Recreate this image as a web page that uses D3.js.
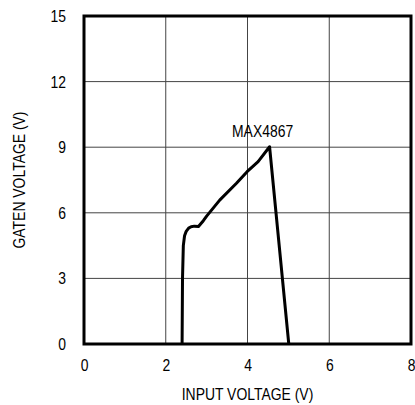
<!DOCTYPE html>
<html>
<head>
<meta charset="utf-8">
<script src="https://cdn.jsdelivr.net/npm/d3@7"></script>
<style>
  body { margin: 0; background: #fff; }
  text { font-family: "Liberation Sans", Arial, sans-serif; fill: #000; }
</style>
</head>
<body>
<div id="chart"></div>
<script>
// input voltage (V) vs gate voltage (V)
const vin   = [2.40, 2.41, 2.43, 2.46, 2.50, 2.56, 2.62, 2.70, 2.80, 2.92, 3.00, 3.32, 3.73, 3.99, 4.26, 4.54, 5.01];
const vgate = [0.00, 3.00, 4.50, 4.95, 5.15, 5.30, 5.36, 5.39, 5.37, 5.64, 5.85, 6.58, 7.35, 7.88, 8.34, 9.02, 0.00];
const xTicks = [0, 2, 4, 6, 8];
const yTicks = [0, 3, 6, 9, 12, 15];
const seriesLabel = "MAX4867";

const w = 415, h = 405;
const m = { left: 84, right: 4, top: 16, bottom: 61 };
const narrow = 0.82; // no condensed font installed, squeeze text instead
const fs = 17;

const svg = d3.select("#chart")
  .append("svg")
  .attr("width", w)
  .attr("height", h)

const x = d3.scaleLinear().domain([0, 8]).range([m.left, w - m.right]);
const y = d3.scaleLinear().domain([0, 15]).range([h - m.bottom, m.top]);

// grid
svg.append("g")
  .selectAll("line")
  .data(xTicks.slice(1, -1))
  .enter()
  .append("line")
  .attr("x1", d => x(d)).attr("x2", d => x(d))
  .attr("y1", y(0)).attr("y2", y(15))
  .attr("stroke", "#444").attr("stroke-width", 1)

svg.append("g")
  .selectAll("line")
  .data(yTicks.slice(1, -1))
  .enter()
  .append("line")
  .attr("x1", x(0)).attr("x2", x(8))
  .attr("y1", d => y(d)).attr("y2", d => y(d))
  .attr("stroke", "#444").attr("stroke-width", 1)

// axes (labels only, frame drawn below)
const xAxis = svg.append("g")
  .attr("transform", `translate(0,${y(0)})`)
  .call(d3.axisBottom(x).tickValues(xTicks).tickSize(0).tickPadding(15))
xAxis.select(".domain").remove()
xAxis.selectAll("text")
  .attr("font-size", fs)
  .attr("transform", `scale(${narrow},1)`)

const yAxis = svg.append("g")
  .attr("transform", `translate(${x(0)},0)`)
  .call(d3.axisLeft(y).tickValues(yTicks).tickSize(0).tickPadding(18 / narrow))
yAxis.select(".domain").remove()
yAxis.selectAll("text")
  .attr("font-size", fs)
  .attr("transform", `scale(${narrow},1)`)

svg.selectAll(".tick text").attr("font-family", null)
svg.selectAll("g").attr("font-family", null)

// frame
svg.append("rect")
  .attr("x", x(0)).attr("y", y(15))
  .attr("width", x(8) - x(0)).attr("height", y(0) - y(15))
  .attr("fill", "none").attr("stroke", "#000").attr("stroke-width", 3)

// curve
const line = d3.line()
  .x((d, i) => x(vin[i]))
  .y(d => y(d))

svg.append("path")
  .datum(vgate)
  .attr("d", line)
  .attr("fill", "none")
  .attr("stroke", "#000")
  .attr("stroke-width", 3)
  .attr("stroke-linejoin", "round")

const peak = d3.maxIndex(vgate);
svg.append("text")
  .attr("transform", `translate(${x(vin[peak]) - 7},${y(vgate[peak]) - 10}) scale(${narrow},1)`)
  .attr("text-anchor", "middle")
  .attr("font-size", fs)
  .text(seriesLabel)

// axis titles
svg.append("text")
  .attr("transform", `translate(${(x(0) + x(8)) / 2},400) scale(${narrow},1)`)
  .attr("text-anchor", "middle")
  .attr("font-size", fs)
  .text("INPUT VOLTAGE (V)")

svg.append("text")
  .attr("transform", `translate(25,${(y(0) + y(15)) / 2}) rotate(-90) scale(${narrow},1)`)
  .attr("text-anchor", "middle")
  .attr("font-size", fs)
  .text("GATEN VOLTAGE (V)")
</script>
</body>
</html>
